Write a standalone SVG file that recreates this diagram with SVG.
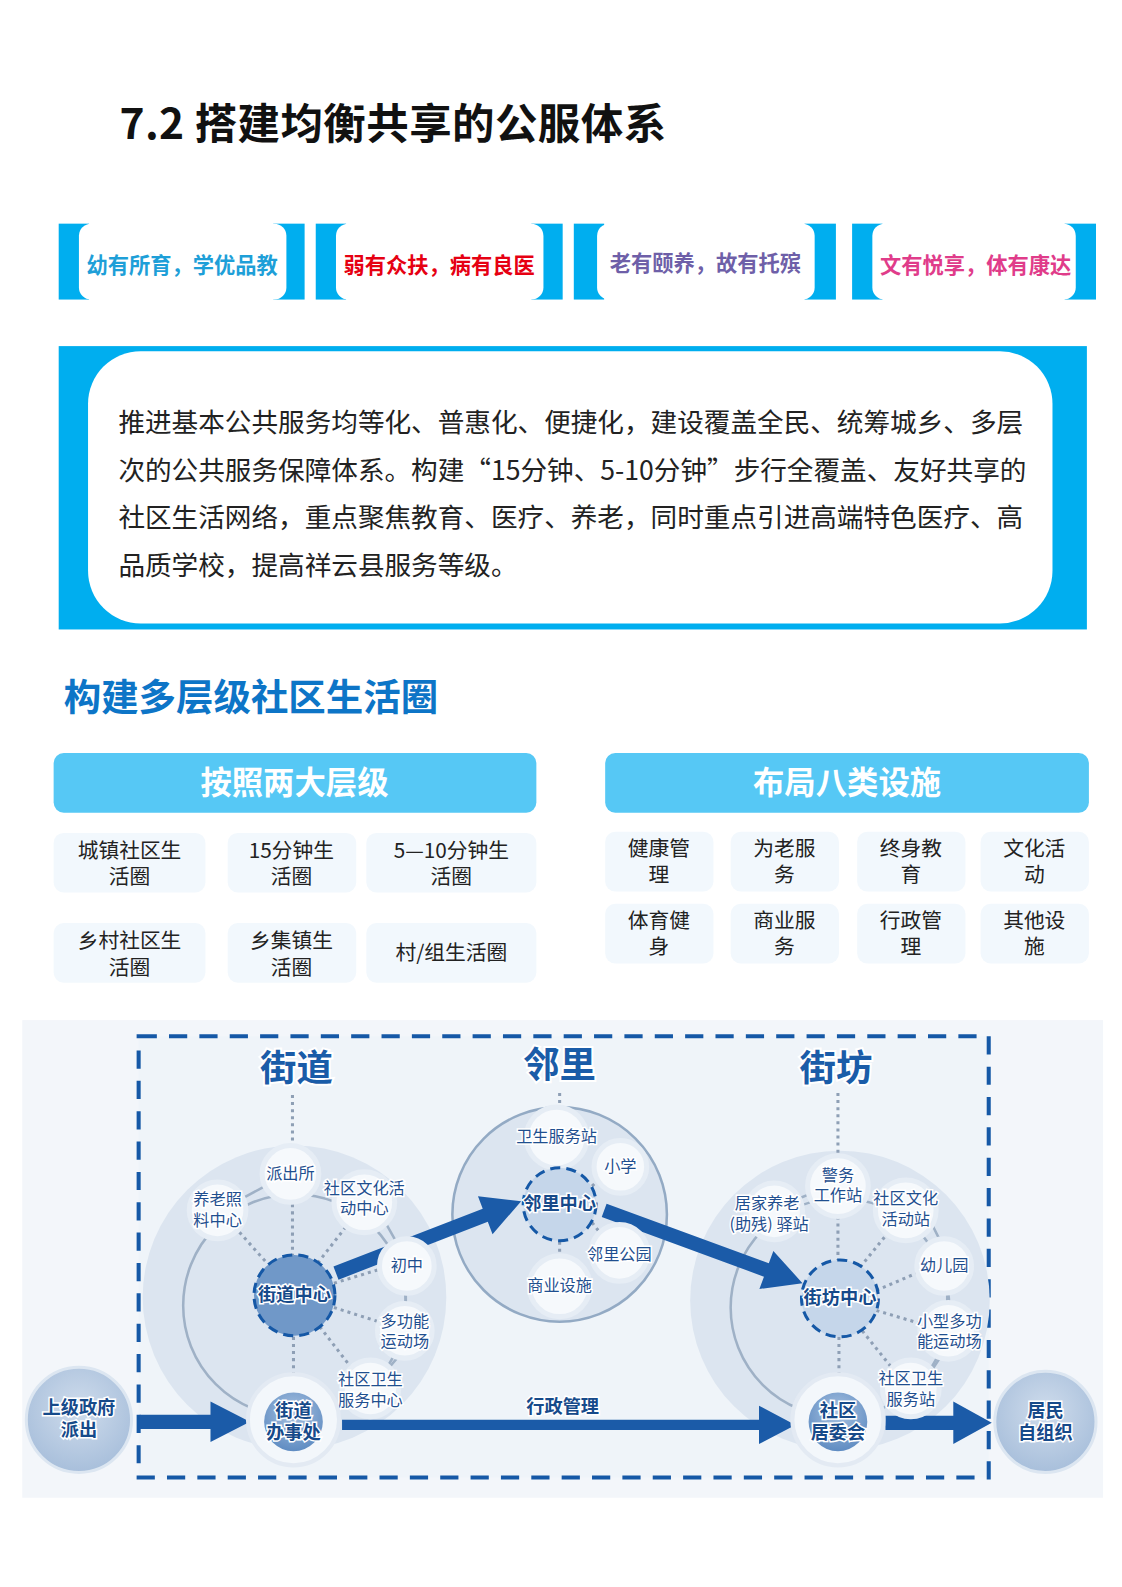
<svg xmlns="http://www.w3.org/2000/svg" width="1122" height="1587" viewBox="0 0 1122 1587">
<defs>
<style>
text{font-family:"Noto Sans CJK SC","Noto Sans",sans-serif;}
.ban{font-size:21px;font-weight:700;text-anchor:middle;}
.body{font-size:26.3px;fill:#222;}
.hdr{font-size:31px;font-weight:700;fill:#fff;text-anchor:middle;}
.cell{fill:#f2f8fd;}
.ct{font-size:20.5px;fill:#222;text-anchor:middle;}
.lab{font-size:36px;font-weight:700;fill:#1a5ca8;text-anchor:middle;stroke:#fff;stroke-width:4;paint-order:stroke;}
.st{font-size:16px;fill:#1f4f8f;text-anchor:middle;stroke:#fff;stroke-width:3;paint-order:stroke;}
.bt{font-size:18px;font-weight:700;fill:#164a8a;text-anchor:middle;stroke:#fff;stroke-width:3;paint-order:stroke;}
.sat{fill:#f6f9fc;stroke:#e6edf5;stroke-width:5;}
.dot{stroke:#8e9fb5;stroke-width:3;stroke-dasharray:3 4;fill:none;}
.ring{stroke:#9fb1c6;stroke-width:2.5;fill:none;}
.ctr{stroke:#1558a6;stroke-width:3;stroke-dasharray:10 6;}
.arw{fill:#1b5ba8;}
.br{fill:#00aeef;}
</style>
<radialGradient id="gOut" cx="50%" cy="40%" r="60%">
<stop offset="0" stop-color="#cfdcec"/><stop offset="1" stop-color="#a8bfdb"/>
</radialGradient>
<radialGradient id="gIn" cx="50%" cy="35%" r="65%">
<stop offset="0" stop-color="#a9c2e0"/><stop offset="1" stop-color="#5f8cc2"/>
</radialGradient>
</defs>
<rect width="1122" height="1587" fill="#fff"/>
<g id="page" transform="scale(1.012)">

<g id="title">
<text x="118" y="137" font-size="42" font-weight="700" letter-spacing="0.4" fill="#111">7.2 搭建均衡共享的公服体系</text>
</g>

<g id="banner1">
<rect class="br" x="58" y="221" width="30" height="75"/>
<rect class="br" x="270" y="221" width="31" height="75"/>
<rect x="78" y="221" width="205" height="75" rx="12" fill="#fff"/>
<text class="ban" x="180" y="270" fill="#1e9fd8">幼有所育，学优品教</text>
</g>
<g id="banner2">
<rect class="br" x="312" y="221" width="30" height="75"/>
<rect class="br" x="525" y="221" width="31" height="75"/>
<rect x="332" y="221" width="205" height="75" rx="12" fill="#fff"/>
<text class="ban" x="434" y="270" fill="#e60012">弱有众扶，病有良医</text>
</g>
<g id="banner3">
<rect class="br" x="567" y="221" width="30" height="75"/>
<rect class="br" x="795" y="221" width="31" height="75"/>
<rect x="590" y="221" width="215" height="75" rx="12" fill="#fff"/>
<text class="ban" x="697" y="268" fill="#6e5fa8">老有颐养，故有托殡</text>
</g>
<g id="banner4">
<rect class="br" x="842" y="221" width="30" height="75"/>
<rect class="br" x="1052" y="221" width="31" height="75"/>
<rect x="862" y="221" width="201" height="75" rx="12" fill="#fff"/>
<text class="ban" x="964" y="270" fill="#e03c8a">文有悦享，体有康达</text>
</g>

<g id="intro">
<rect x="58" y="342" width="1016" height="280" fill="#00aeef"/>
<rect x="87" y="347" width="953" height="269" rx="52" fill="#fff"/>
<text class="body" x="117" y="427">推进基本公共服务均等化、普惠化、便捷化，建设覆盖全民、统筹城乡、多层</text>
<text class="body" x="117" y="474">次的公共服务保障体系。构建“15分钟、5-10分钟”步行全覆盖、友好共享的</text>
<text class="body" x="117" y="521">社区生活网络，重点聚焦教育、医疗、养老，同时重点引进高端特色医疗、高</text>
<text class="body" x="117" y="568">品质学校，提高祥云县服务等级。</text>
</g>

<g id="heading">
<text x="63" y="703" font-size="37" font-weight="700" fill="#0d75c7">构建多层级社区生活圈</text>
</g>

<g id="levels">
<rect x="53" y="744" width="477" height="59" rx="10" fill="#56c8f5"/>
<text class="hdr" x="291" y="785">按照两大层级</text>
<rect class="cell" x="53" y="823" width="150" height="59" rx="10"/>
<text class="ct" x="128" y="848">城镇社区生</text><text class="ct" x="128" y="874">活圈</text>
<rect class="cell" x="225" y="823" width="127" height="59" rx="10"/>
<text class="ct" x="288" y="848">15分钟生</text><text class="ct" x="288" y="874">活圈</text>
<rect class="cell" x="362" y="823" width="168" height="59" rx="10"/>
<text class="ct" x="446" y="848">5—10分钟生</text><text class="ct" x="446" y="874">活圈</text>
<rect class="cell" x="53" y="912" width="150" height="59" rx="10"/>
<text class="ct" x="128" y="937">乡村社区生</text><text class="ct" x="128" y="963">活圈</text>
<rect class="cell" x="225" y="912" width="127" height="59" rx="10"/>
<text class="ct" x="288" y="937">乡集镇生</text><text class="ct" x="288" y="963">活圈</text>
<rect class="cell" x="362" y="912" width="168" height="59" rx="10"/>
<text class="ct" x="446" y="949">村/组生活圈</text>
</g>

<g id="facilities">
<rect x="598" y="744" width="478" height="59" rx="10" fill="#56c8f5"/>
<text class="hdr" x="837" y="785">布局八类设施</text>
<rect class="cell" x="598" y="822" width="107" height="59" rx="10"/>
<text class="ct" x="651" y="846">健康管</text><text class="ct" x="651" y="872">理</text>
<rect class="cell" x="722" y="822" width="107" height="59" rx="10"/>
<text class="ct" x="775" y="846">为老服</text><text class="ct" x="775" y="872">务</text>
<rect class="cell" x="847" y="822" width="107" height="59" rx="10"/>
<text class="ct" x="900" y="846">终身教</text><text class="ct" x="900" y="872">育</text>
<rect class="cell" x="969" y="822" width="107" height="59" rx="10"/>
<text class="ct" x="1022" y="846">文化活</text><text class="ct" x="1022" y="872">动</text>
<rect class="cell" x="598" y="893" width="107" height="59" rx="10"/>
<text class="ct" x="651" y="917">体育健</text><text class="ct" x="651" y="943">身</text>
<rect class="cell" x="722" y="893" width="107" height="59" rx="10"/>
<text class="ct" x="775" y="917">商业服</text><text class="ct" x="775" y="943">务</text>
<rect class="cell" x="847" y="893" width="107" height="59" rx="10"/>
<text class="ct" x="900" y="917">行政管</text><text class="ct" x="900" y="943">理</text>
<rect class="cell" x="969" y="893" width="107" height="59" rx="10"/>
<text class="ct" x="1022" y="917">其他设</text><text class="ct" x="1022" y="943">施</text>
</g>

<g id="diagram-bg">
<rect x="22" y="1008" width="1068" height="472" fill="#f3f6fa"/>
<rect x="137" y="1024" width="840" height="436" fill="#eff4f9" stroke="#1558a6" stroke-width="4" stroke-dasharray="18 12"/>
</g>

<g id="jiedao-area">
<circle cx="291" cy="1282" r="150" fill="#dce5f0"/>
<circle cx="291" cy="1290" r="110" fill="#e7eef6" class="ring"/>
</g>
<g id="linli-area">
<circle cx="553" cy="1200" r="106" fill="#dce5f0" stroke="#93aac4" stroke-width="2.5"/>
</g>
<g id="jiefang-area">
<circle cx="830" cy="1285" r="148" fill="#dce5f0"/>
<circle cx="830" cy="1292" r="108" fill="#e7eef6" class="ring"/>
</g>

<g id="connectors">
<path class="dot" d="M289,1082 V1130 M289,1190 V1240 M262,1246 L236,1217 M314,1248 L342,1212 M330,1268 L376,1254 M330,1292 L374,1306 M316,1311 L346,1350 M290,1321 V1358"/>
<path class="ring" d="M240,1184 L262,1172 M382,1210 L392,1228 M401,1277 V1288 M394,1340 L384,1352"/>
<path class="dot" d="M553,1080 V1154 M553,1227 V1242 M585,1172 L598,1160 M585,1208 L596,1222"/>
<path class="dot" d="M828,1080 V1142 M828,1202 V1245 M850,1252 L876,1220 M866,1275 L906,1258 M866,1295 L910,1308 M852,1315 L880,1350 M829,1321 V1358"/>
<path class="ring" d="M790,1184 L800,1180 M922,1212 L928,1224 M936,1277 V1288 M930,1340 L922,1352"/>
<path class="arw" d="M138,1398 L208,1398 L208,1385 L247,1405 L208,1425 L208,1412 L138,1412 Z"/>
<path class="arw" d="M338,1403 L750,1403 L750,1389 L786,1408 L750,1427 L750,1413 L338,1413 Z"/>
<path class="arw" d="M875,1399 L942,1399 L942,1385 L980,1406 L942,1427 L942,1413 L875,1413 Z"/>
<path class="arw" d="M329.5,1251.5 L477,1194.3 L472.3,1182.1 L515,1187 L486.7,1219.5 L482,1207.3 L334.5,1264.5 Z"/>
<path class="arw" d="M599.4,1189.4 L759.7,1248.3 L764.2,1236.1 L793,1268 L750.4,1273.7 L754.9,1261.5 L594.6,1202.6 Z"/>
<text class="bt" x="556" y="1396">行政管理</text>
</g>

<g id="label-jiedao"><text class="lab" x="293" y="1068">街道</text></g>
<g id="label-linli"><text class="lab" x="553" y="1065">邻里</text></g>
<g id="label-jiefang"><text class="lab" x="826" y="1068">街坊</text></g>

<g id="n-paichusuo"><circle class="sat" cx="287" cy="1160" r="28"/><text class="st" x="287" y="1165">派出所</text></g>
<g id="n-yanglao"><circle class="sat" cx="215" cy="1196" r="28"/><text class="st" x="215" y="1191">养老照</text><text class="st" x="215" y="1211">料中心</text></g>
<g id="n-wenhua"><circle class="sat" cx="360" cy="1188" r="30"/><text class="st" x="360" y="1180">社区文化活</text><text class="st" x="360" y="1200">动中心</text></g>
<g id="n-chuzhong"><circle class="sat" cx="402" cy="1251" r="27"/><text class="st" x="402" y="1256">初中</text></g>
<g id="n-duogongneng"><circle class="sat" cx="400" cy="1315" r="27"/><text class="st" x="400" y="1311">多功能</text><text class="st" x="400" y="1331">运动场</text></g>
<g id="n-weisheng1"><circle class="sat" cx="366" cy="1372" r="28"/><text class="st" x="366" y="1369">社区卫生</text><text class="st" x="366" y="1389">服务中心</text></g>
<g id="n-jiedaozhongxin"><circle class="ctr" cx="291" cy="1280" r="40" fill="#7098c8"/><text class="bt" x="291" y="1286">街道中心</text></g>
<g id="n-banshichu"><circle cx="290" cy="1403" r="45" fill="#f3f7fb" stroke="#e3eaf3" stroke-width="4"/><circle cx="290" cy="1405" r="29" fill="url(#gIn)"/><text class="bt" x="290" y="1400">街道</text><text class="bt" x="290" y="1422">办事处</text></g>

<g id="n-weishengzhan"><circle class="sat" cx="550" cy="1124" r="30"/><text class="st" x="550" y="1128">卫生服务站</text></g>
<g id="n-xiaoxue"><circle class="sat" cx="613" cy="1153" r="26"/><text class="st" x="613" y="1158">小学</text></g>
<g id="n-gongyuan"><circle class="sat" cx="612" cy="1238" r="28"/><text class="st" x="612" y="1245">邻里公园</text></g>
<g id="n-shangye"><circle class="sat" cx="553" cy="1271" r="30"/><text class="st" x="553" y="1276">商业设施</text></g>
<g id="n-linlizhongxin"><circle class="ctr" cx="553" cy="1190" r="36" fill="#c5d6ea"/><text class="bt" x="553" y="1196">邻里中心</text></g>

<g id="n-jingwu"><circle class="sat" cx="828" cy="1172" r="30"/><text class="st" x="828" y="1167">警务</text><text class="st" x="828" y="1187">工作站</text></g>
<g id="n-jujia"><circle class="sat" cx="765" cy="1197" r="28"/><text class="st" x="758" y="1195">居家养老</text><text class="st" x="760" y="1215">(助残) 驿站</text></g>
<g id="n-wenhuazhan"><circle class="sat" cx="895" cy="1196" r="30"/><text class="st" x="895" y="1190">社区文化</text><text class="st" x="895" y="1210">活动站</text></g>
<g id="n-youeryuan"><circle class="sat" cx="933" cy="1251" r="27"/><text class="st" x="933" y="1256">幼儿园</text></g>
<g id="n-xiaoxing"><circle class="sat" cx="937" cy="1315" r="28"/><text class="st" x="938" y="1311">小型多功</text><text class="st" x="938" y="1331">能运动场</text></g>
<g id="n-weisheng2"><circle class="sat" cx="900" cy="1372" r="28"/><text class="st" x="900" y="1368">社区卫生</text><text class="st" x="900" y="1388">服务站</text></g>
<g id="n-jiefangzhongxin"><circle class="ctr" cx="830" cy="1283" r="38" fill="#c5d6ea"/><text class="bt" x="830" y="1289">街坊中心</text></g>
<g id="n-juweihui"><circle cx="828" cy="1403" r="45" fill="#f3f7fb" stroke="#e3eaf3" stroke-width="4"/><circle cx="828" cy="1405" r="29" fill="url(#gIn)"/><text class="bt" x="828" y="1400">社区</text><text class="bt" x="828" y="1422">居委会</text></g>

<g id="n-shangji"><circle cx="78" cy="1403" r="52" fill="url(#gOut)" stroke="#dce6f1" stroke-width="3"/><text class="bt" x="78" y="1397">上级政府</text><text class="bt" x="78" y="1419">派出</text></g>
<g id="n-jumin"><circle cx="1033" cy="1405" r="50" fill="url(#gOut)" stroke="#dce6f1" stroke-width="3"/><text class="bt" x="1033" y="1400">居民</text><text class="bt" x="1033" y="1422">自组织</text></g>
</g>
</svg>
